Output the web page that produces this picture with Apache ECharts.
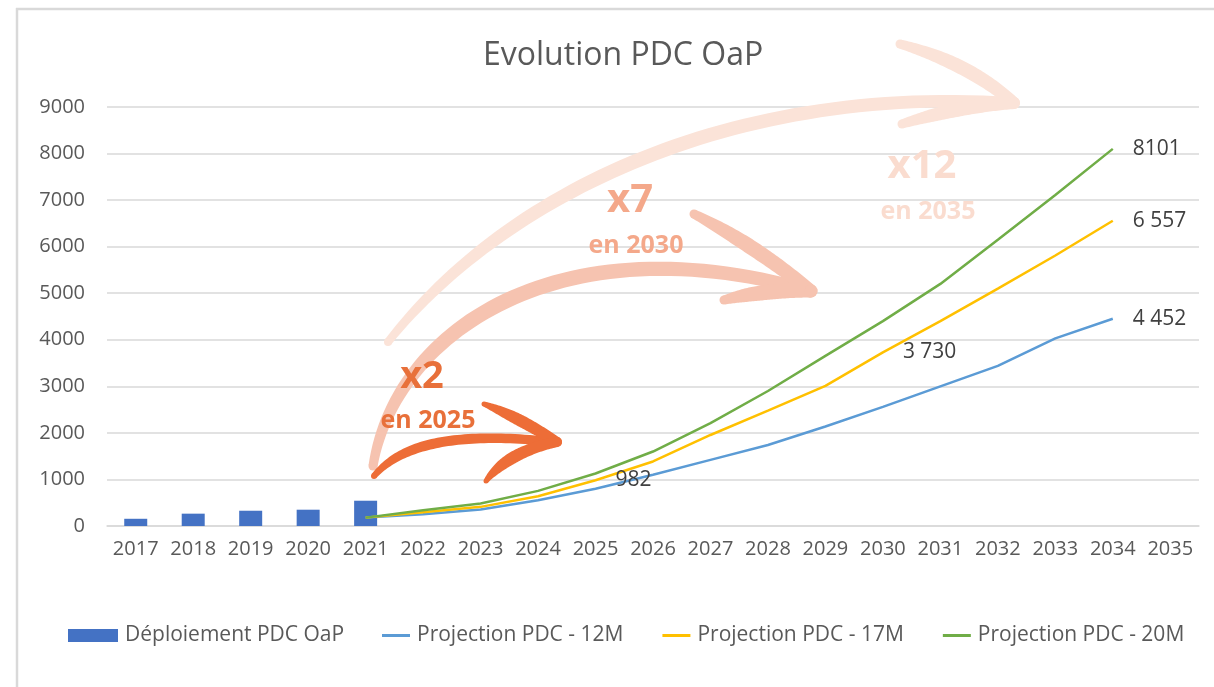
<!DOCTYPE html>
<html>
<head>
<meta charset="utf-8">
<script src="https://cdn.jsdelivr.net/npm/echarts@6/dist/echarts.min.js"></script>
<style>
  html, body { margin: 0; padding: 0; background: #ffffff; }
  #chart { width: 1214px; height: 687px; }
</style>
</head>
<body>
<div id="chart"></div>
<script>
// Years on the horizontal axis
const years = ['2017','2018','2019','2020','2021','2022','2023','2024','2025','2026',
               '2027','2028','2029','2030','2031','2032','2033','2034','2035'];

// Actual deployment (bars), 2017-2021
const deployed = [155, 265, 328, 350, 543];

// Projections, 2021-2034
const proj12M = [180, 254, 354, 554, 800, 1100, 1420, 1740, 2137, 2560, 3000, 3440, 4030, 4452];
const proj17M = [180, 297, 411, 640, 982, 1386, 1955, 2480, 3010, 3730, 4400, 5100, 5810, 6557];
const proj20M = [180, 340, 483, 755, 1128, 1600, 2210, 2900, 3655, 4400, 5200, 6150, 7110, 8101];

// Points whose value is printed next to them
const labelled12M = ['2034'];
const labelled17M = ['2025', '2030', '2034'];
const labelled20M = ['2034'];

const seriesNames = ['Déploiement PDC OaP', 'Projection PDC - 12M', 'Projection PDC - 17M', 'Projection PDC - 20M'];

const projStart = years.indexOf('2021');

function spaced(v) {
  return String(v).replace(/\B(?=(\d{3})+(?!\d))/g, ' ');
}

function buildLine(values, labelled, grouped) {
  const out = years.map(() => null);
  values.forEach((v, i) => {
    const yr = years[projStart + i];
    if (labelled.indexOf(yr) >= 0) {
      out[projStart + i] = {
        value: v,
        label: {
          show: true,
          position: 'right',
          distance: 20,
          color: '#404040',
          fontSize: 21,
          fontFamily: 'Open Sans',
          formatter: p => grouped ? spaced(p.value) : String(p.value)
        }
      };
    } else {
      out[projStart + i] = v;
    }
  });
  return out;
}

const barData = years.map((y, i) => i < deployed.length ? deployed[i] : null);

const chart = echarts.init(document.getElementById('chart'), null, { renderer: 'canvas' });

const FONT = 'Open Sans';
const GREY = '#595959';

// ---- hand-drawn style brush strokes (thin ends, fuller middle) ----
function bez(s, t) {
  const u = 1 - t;
  const a = u * u * u, b = 3 * u * u * t, c = 3 * u * t * t, d = t * t * t;
  return [a * s.x1 + b * s.cpx1 + c * s.cpx2 + d * s.x2,
          a * s.y1 + b * s.cpy1 + c * s.cpy2 + d * s.y2];
}
function brush(s, w0, w1, w2, color, z) {
  const n = 60, left = [], right = [];
  for (let i = 0; i <= n; i++) {
    const t = i / n;
    const p = bez(s, t);
    const q = bez(s, Math.min(1, t + 0.001));
    const r = bez(s, Math.max(0, t - 0.001));
    let dx = q[0] - r[0], dy = q[1] - r[1];
    const len = Math.hypot(dx, dy) || 1;
    dx /= len; dy /= len;
    const w = t < 0.5 ? w0 + (w1 - w0) * Math.sin(t * Math.PI) : w2 + (w1 - w2) * Math.sin(t * Math.PI);
    left.push([p[0] - dy * w / 2, p[1] + dx * w / 2]);
    right.push([p[0] + dy * w / 2, p[1] - dx * w / 2]);
  }
  const ps = bez(s, 0), pe = bez(s, 1);
  return [
    { type: 'polygon', shape: { points: left.concat(right.reverse()) }, style: { fill: color }, z: z },
    { type: 'circle', shape: { cx: ps[0], cy: ps[1], r: w0 / 2 }, style: { fill: color }, z: z },
    { type: 'circle', shape: { cx: pe[0], cy: pe[1], r: w2 / 2 }, style: { fill: color }, z: z }
  ];
}
function arrow(color, main, mw, barbs, bw, z) {
  let children = brush(main, mw[0], mw[1], mw[2], color, z);
  barbs.forEach(b => { children = children.concat(brush(b, bw[0], bw[1], bw[2], color, z)); });
  return { type: 'group', z: z, children: children };
}

function lineSeries(name, values, labelled, grouped, color, z) {
  return {
    name: name,
    type: 'line',
    data: buildLine(values, labelled, grouped),
    symbol: 'circle',
    symbolSize: 0,
    showSymbol: true,
    lineStyle: { color: color, width: 2.5 },
    itemStyle: { color: color },
    emphasis: { disabled: true },
    z: z
  };
}

const option = {
  backgroundColor: '#ffffff',
  animation: false,
  title: {
    text: 'Evolution PDC OaP',
    left: 478,
    top: 35,
    textStyle: { fontFamily: FONT, fontSize: 32, fontWeight: 'normal', color: GREY }
  },
  grid: { left: 107, right: 15, top: 107, bottom: 161, containLabel: false },
  legend: [
    {
      data: [seriesNames[0]],
      left: 63, top: 620,
      itemWidth: 50, itemHeight: 13,
      textStyle: { fontFamily: FONT, fontSize: 21, color: GREY, padding: [0, 0, 0, 2] },
      icon: 'rect'
    },
    {
      data: seriesNames.slice(1),
      left: 377, top: 620,
      itemWidth: 28, itemHeight: 3,
      itemGap: 39,
      icon: 'rect',
      textStyle: { fontFamily: FONT, fontSize: 21, color: GREY, padding: [0, 0, 0, 2] }
    }
  ],
  xAxis: {
    type: 'category',
    data: years,
    boundaryGap: true,
    axisLine: { lineStyle: { color: '#d9d9d9', width: 1.5 } },
    axisTick: { show: false },
    axisLabel: { fontFamily: FONT, fontSize: 20, color: GREY, margin: 13, interval: 0 }
  },
  yAxis: {
    type: 'value',
    min: 0, max: 9000, interval: 1000,
    axisLine: { show: false },
    axisTick: { show: false },
    splitLine: { lineStyle: { color: '#d9d9d9', width: 1.5 } },
    axisLabel: { fontFamily: FONT, fontSize: 20, color: GREY, margin: 22, formatter: v => String(v) }
  },
  series: [
    {
      name: seriesNames[0],
      type: 'bar',
      data: barData,
      barWidth: 23,
      itemStyle: { color: '#4472C4' },
      z: 2
    },
    lineSeries(seriesNames[1], proj12M, labelled12M, true, '#5B9BD5', 3),
    lineSeries(seriesNames[2], proj17M, labelled17M, true, '#FFC000', 4),
    lineSeries(seriesNames[3], proj20M, labelled20M, false, '#70AD47', 5)
  ],
  graphic: [
    // frame
    { type: 'line', shape: { x1: 16, y1: 9, x2: 1214, y2: 9 }, style: { stroke: '#d9d9d9', lineWidth: 2.5 }, z: 1 },
    { type: 'line', shape: { x1: 17, y1: 8, x2: 17, y2: 687 }, style: { stroke: '#d9d9d9', lineWidth: 2.5 }, z: 1 },

    // x12 by 2035
    arrow('#FBE3D8',
      { x1: 388, y1: 342, cpx1: 500, cpy1: 200, cpx2: 720, cpy2: 85, x2: 1012, y2: 103 }, [8, 14, 12],
      [
        { x1: 900, y1: 44, cpx1: 950, cpy1: 58, cpx2: 985, cpy2: 78, x2: 1014, y2: 103 },
        { x1: 902, y1: 124, cpx1: 940, cpy1: 112, cpx2: 975, cpy2: 105, x2: 1014, y2: 103 }
      ], [9, 14, 12], 20),
    { type: 'text', x: 922, y: 167, z: 21,
      style: { text: 'x12', fill: '#FADCCF', font: 'bold 40px "Open Sans"', textAlign: 'center', textVerticalAlign: 'middle' } },
    { type: 'text', x: 928, y: 212, z: 21,
      style: { text: 'en 2035', fill: '#FADCCF', font: 'bold 25px "Open Sans"', textAlign: 'center', textVerticalAlign: 'middle' } },

    // x7 by 2030
    arrow('#F6C3B0',
      { x1: 373, y1: 466, cpx1: 395, cpy1: 330, cpx2: 560, cpy2: 220, x2: 810, y2: 291 }, [9, 15, 13],
      [
        { x1: 694, y1: 214, cpx1: 735, cpy1: 235, cpx2: 775, cpy2: 262, x2: 811, y2: 291 },
        { x1: 724, y1: 300, cpx1: 750, cpy1: 293, cpx2: 780, cpy2: 290, x2: 811, y2: 291 }
      ], [9, 15, 13], 22),
    { type: 'text', x: 630, y: 201, z: 23,
      style: { text: 'x7', fill: '#F4A88A', font: 'bold 40px "Open Sans"', textAlign: 'center', textVerticalAlign: 'middle' } },
    { type: 'text', x: 636, y: 246, z: 23,
      style: { text: 'en 2030', fill: '#F4A88A', font: 'bold 25px "Open Sans"', textAlign: 'center', textVerticalAlign: 'middle' } },

    // x2 by 2025
    arrow('#ED6D37',
      { x1: 374, y1: 476, cpx1: 398, cpy1: 448, cpx2: 445, cpy2: 430, x2: 556, y2: 442 }, [6, 10, 9],
      [
        { x1: 484, y1: 404, cpx1: 510, cpy1: 414, cpx2: 535, cpy2: 428, x2: 557, y2: 442 },
        { x1: 486, y1: 481, cpx1: 500, cpy1: 462, cpx2: 525, cpy2: 448, x2: 557, y2: 442 }
      ], [5, 12, 10], 24),
    { type: 'text', x: 422, y: 377, z: 25,
      style: { text: 'x2', fill: '#E8703A', font: 'bold 38px "Open Sans"', textAlign: 'center', textVerticalAlign: 'middle' } },
    { type: 'text', x: 428, y: 421, z: 25,
      style: { text: 'en 2025', fill: '#E8703A', font: 'bold 25px "Open Sans"', textAlign: 'center', textVerticalAlign: 'middle' } }
  ]
};

chart.setOption(option);
</script>
</body>
</html>
